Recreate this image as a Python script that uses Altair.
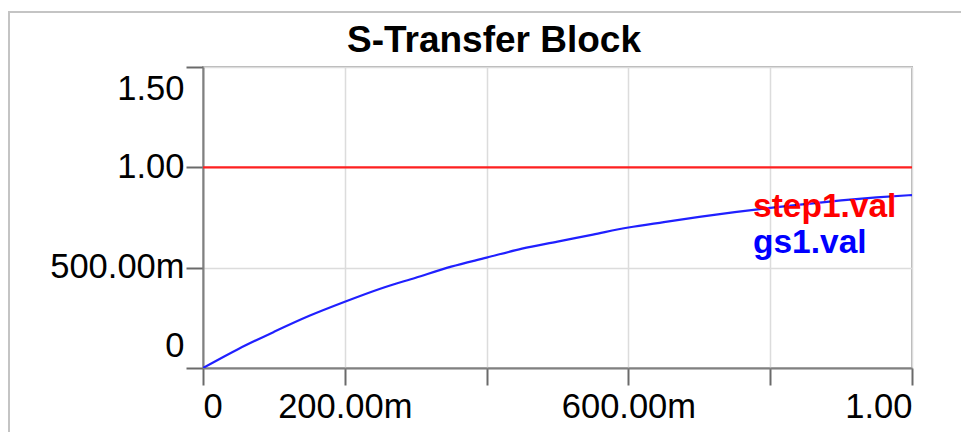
import altair as alt
import pandas as pd

# ---- data ----
t_values = [0.0, 0.05, 0.10, 0.15, 0.20, 0.25, 0.30, 0.35, 0.40, 0.45, 0.50,
            0.55, 0.60, 0.65, 0.70, 0.75, 0.80, 0.85, 0.90, 0.95, 1.0]
gs1_values = [0.0, 0.095, 0.18, 0.26, 0.33, 0.395, 0.45, 0.505, 0.55, 0.595, 0.63,
              0.665, 0.70, 0.727, 0.753, 0.777, 0.798, 0.817, 0.835, 0.85, 0.862]
step1_t = [0.0, 1.0]
step1_values = [1.0, 1.0]

series_names = ["step1.val", "gs1.val"]
series_colors = ["#ff2020", "#2020ff"]

x_ticks = [0.0, 0.2, 0.4, 0.6, 0.8, 1.0]
x_tick_labels = ["0", "200.00m", "", "600.00m", "", "1.00"]
y_ticks = [0.0, 0.5, 1.0, 1.5]
y_tick_labels = ["0", "500.00m", "1.00", "1.50"]
title_text = "S-Transfer Block"

FONT = "Liberation Sans"


def label_expr(vals, labels):
    expr = "''"
    for v, lab in reversed(list(zip(vals, labels))):
        expr = f"abs(datum.value - {v}) < 1e-6 ? '{lab}' : ({expr})"
    return expr


lines_df = pd.concat([
    pd.DataFrame({"t": step1_t, "value": step1_values, "series": series_names[0]}),
    pd.DataFrame({"t": t_values, "value": gs1_values, "series": series_names[1]}),
], ignore_index=True)

one = pd.DataFrame({"k": [0]})

x_axis = alt.Axis(values=x_ticks, labelExpr=label_expr(x_ticks, x_tick_labels),
                  title=None, grid=True, labelFlush=True, tickSize=17,
                  labelPadding=5, labelAngle=0)
y_axis = alt.Axis(values=y_ticks, labelExpr=label_expr(y_ticks, y_tick_labels),
                  title=None, grid=True, labelFlush=True, labelFlushOffset=-5,
                  tickSize=17, labelPadding=2)

lines = alt.Chart(lines_df).mark_line(strokeWidth=2.2, clip=True, interpolate="monotone").encode(
    x=alt.X("t:Q", scale=alt.Scale(domain=[0, 1], nice=False, zero=False), axis=x_axis),
    y=alt.Y("value:Q", scale=alt.Scale(domain=[0, 1.5], nice=False), axis=y_axis),
    color=alt.Color("series:N", scale=alt.Scale(domain=series_names, range=series_colors),
                    legend=None),
    detail="series:N",
)

frame = alt.Chart(one).mark_rect(fillOpacity=0, stroke="#c4c4c4", strokeWidth=2).encode(
    x=alt.value(-194), x2=alt.value(800), y=alt.value(-55), y2=alt.value(420)
)

title = alt.Chart(one).mark_text(
    text=title_text, font=FONT, fontSize=37, fontWeight="bold", color="#000000",
    align="center", baseline="alphabetic"
).encode(x=alt.value(291), y=alt.value(-15))

leg1 = alt.Chart(one).mark_text(
    text=series_names[0], font=FONT, fontSize=33.5, fontWeight="bold",
    color="#ff0000", align="left", baseline="alphabetic"
).encode(x=alt.value(550), y=alt.value(150))

leg2 = alt.Chart(one).mark_text(
    text=series_names[1], font=FONT, fontSize=33.5, fontWeight="bold",
    color="#0000ff", align="left", baseline="alphabetic"
).encode(x=alt.value(550), y=alt.value(186))

chart = alt.layer(frame, lines, leg1, leg2, title).properties(
    width=709, height=301,
    autosize=alt.AutoSizeParams(type="none"),
    padding={"left": 195, "top": 59, "right": 49, "bottom": 64},
    background="#ffffff",
).configure_view(
    stroke="#b4b4b4", strokeWidth=2
).configure_axis(
    labelFont=FONT, labelFontSize=34.5, labelColor="#000000",
    domainColor="#808080", domainWidth=2,
    tickColor="#6a6a6a", tickWidth=2,
    gridColor="#dcdcdc", gridWidth=1.5,
)

chart.save("out.html", embed_options={"renderer": "svg", "actions": False})
